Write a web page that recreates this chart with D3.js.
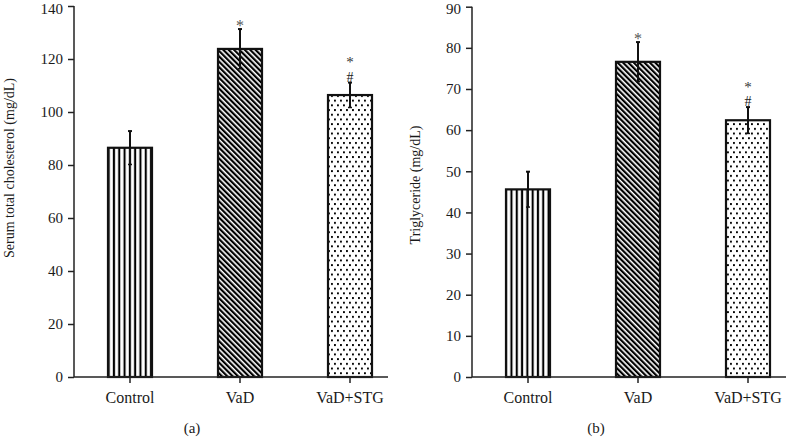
<!DOCTYPE html>
<html>
<head>
<meta charset="utf-8">
<script src="https://cdn.jsdelivr.net/npm/d3@7"></script>
<style>
  html, body { margin: 0; padding: 0; background: #fff; }
  svg { display: block; }
  text { font-family: "Liberation Serif", "Times New Roman", serif; fill: #1a1a1a; }
</style>
</head>
<body>
<svg id="chart" width="786" height="437"></svg>
<script>
// ---- data ----
const categories = ["Control", "VaD", "VaD+STG"];
const cholMeans = [86.5, 123.8, 106.4];
const cholErr = [6.3, 7.5, 4.7];
const trigMeans = [45.6, 76.6, 62.4];
const trigErr = [4.3, 4.8, 3.2];
const starMarks = ["", "*", "*"];
const hashMarks = ["", "", "#"];
const cholTicks = [0, 20, 40, 60, 80, 100, 120, 140];
const trigTicks = [0, 10, 20, 30, 40, 50, 60, 70, 80, 90];
const patternIds = ["pVert", "pDiag", "pDots"];

const svg = d3.select("#chart");
const defs = svg.append("defs");

// vertical stripes
const pv = defs.append("pattern").attr("id", "pVert").attr("patternUnits", "userSpaceOnUse")
  .attr("width", 5.3).attr("height", 10);
pv.append("rect").attr("width", 5.3).attr("height", 10).attr("fill", "#fff");
pv.append("rect").attr("x", 1.6).attr("width", 2.1).attr("height", 10).attr("fill", "#000");

// diagonal stripes "\"
const pd = defs.append("pattern").attr("id", "pDiag").attr("patternUnits", "userSpaceOnUse")
  .attr("width", 3.8).attr("height", 10).attr("patternTransform", "rotate(-45)");
pd.append("rect").attr("width", 3.8).attr("height", 10).attr("fill", "#fff");
pd.append("rect").attr("x", 0).attr("width", 2.2).attr("height", 10).attr("fill", "#000");

// staggered dots
const pdot = defs.append("pattern").attr("id", "pDots").attr("patternUnits", "userSpaceOnUse")
  .attr("width", 6).attr("height", 9.4);
pdot.append("rect").attr("width", 6).attr("height", 9.4).attr("fill", "#fff");
pdot.append("rect").attr("x", 1).attr("y", 1).attr("width", 1.9).attr("height", 1.9).attr("fill", "#000");
pdot.append("rect").attr("x", 4).attr("y", 5.7).attr("width", 1.9).attr("height", 1.9).attr("fill", "#000");

function panel(opts) {
  const g = svg.append("g");
  const x = d3.scaleBand().domain(categories)
    .range([opts.x0 + 1, opts.x0 + 331]).paddingInner(0.6).paddingOuter(0.3);
  const y = d3.scaleLinear().domain([0, opts.max]).range([377, opts.yTop]);

  // bars
  g.selectAll("rect.bar").data(categories).join("rect")
    .attr("class", "bar")
    .attr("x", d => x(d))
    .attr("y", (d, i) => y(opts.means[i]))
    .attr("width", x.bandwidth())
    .attr("height", (d, i) => y(0) - y(opts.means[i]))
    .attr("fill", (d, i) => `url(#${patternIds[i]})`)
    .attr("stroke", "#111").attr("stroke-width", 2.2);

  // error bars
  categories.forEach((c, i) => {
    const cx = x(c) + x.bandwidth() / 2;
    const hi = y(opts.means[i] + opts.errs[i]);
    const lo = y(opts.means[i] - opts.errs[i]);
    g.append("line").attr("x1", cx).attr("x2", cx).attr("y1", hi).attr("y2", lo)
      .attr("stroke", "#111").attr("stroke-width", 2);
    g.append("line").attr("x1", cx - 2).attr("x2", cx + 2).attr("y1", hi).attr("y2", hi)
      .attr("stroke", "#111").attr("stroke-width", 2);
    g.append("line").attr("x1", cx - 2).attr("x2", cx + 2).attr("y1", lo).attr("y2", lo)
      .attr("stroke", "#111").attr("stroke-width", 1.5);
    if (hashMarks[i]) {
      g.append("text").attr("x", cx).attr("y", hi - 1).attr("text-anchor", "middle")
        .style("font-size", "14px").text(hashMarks[i]);
      g.append("text").attr("x", cx).attr("y", hi - 15.5).attr("text-anchor", "middle")
        .style("font-size", "15px").style("fill", "#333").text(starMarks[i]);
    } else if (starMarks[i]) {
      g.append("text").attr("x", cx).attr("y", hi + 2).attr("text-anchor", "middle")
        .style("font-size", "16px").style("fill", "#555").text(starMarks[i]);
    }
  });

  // y axis
  const ya = g.append("g").attr("transform", `translate(${opts.x0},0)`)
    .call(d3.axisLeft(y).tickValues(opts.ticks).tickSize(6).tickPadding(5).tickFormat(d3.format("d")));
  ya.select(".domain").attr("stroke", "#222").attr("stroke-width", 1.5).attr("d", `M0,${opts.yTop}V377`);
  ya.selectAll(".tick line").attr("stroke", "#222").attr("stroke-width", 1.5);
  ya.selectAll(".tick text").style("font-size", "15px").style("font-family", "Liberation Serif, serif").attr("fill", "#1a1a1a")
    .filter(d => d === opts.max).attr("dy", "0.48em");

  // x axis
  const xa = g.append("g").attr("transform", `translate(0,377)`)
    .call(d3.axisBottom(x).tickSize(6).tickPadding(9));
  xa.select(".domain").attr("stroke", "#222").attr("stroke-width", 1.5)
    .attr("d", `M${opts.x0},0H${opts.xEnd}`);
  xa.selectAll(".tick line").attr("stroke", "#222").attr("stroke-width", 1.5);
  xa.selectAll(".tick text").style("font-size", "16px").style("font-family", "Liberation Serif, serif").attr("fill", "#1a1a1a");

  // y label
  g.append("text")
    .attr("transform", `translate(${opts.labelX},${opts.labelY}) rotate(-90)`)
    .attr("text-anchor", "middle").style("font-size", "14px").text(opts.yLabel);

  // panel label
  g.append("text").attr("x", opts.panelX).attr("y", 433).attr("text-anchor", "middle")
    .style("font-size", "15px").text(opts.panelLabel);
}

panel({ x0: 74, xEnd: 388, yTop: 6, max: 140, means: cholMeans, errs: cholErr, ticks: cholTicks,
  yLabel: "Serum total cholesterol (mg/dL)", labelX: 14, labelY: 168, panelX: 192, panelLabel: "(a)" });
panel({ x0: 472, xEnd: 786, yTop: 6.7, max: 90, means: trigMeans, errs: trigErr, ticks: trigTicks,
  yLabel: "Triglyceride (mg/dL)", labelX: 420, labelY: 185, panelX: 596, panelLabel: "(b)" });
</script>
</body>
</html>
